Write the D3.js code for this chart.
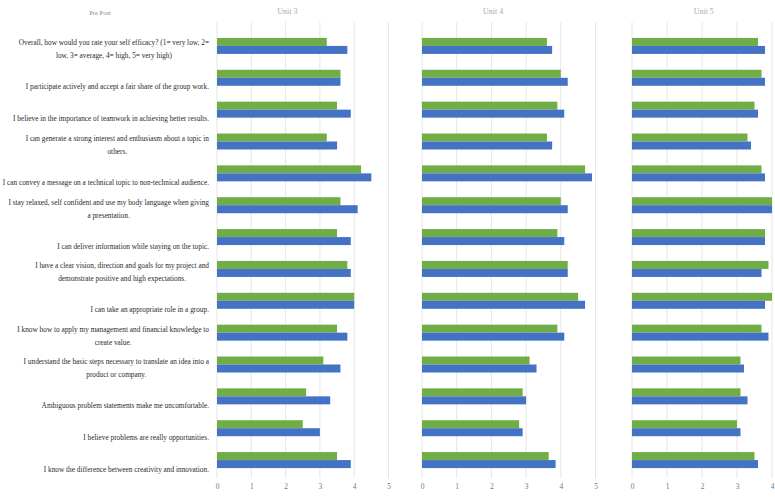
<!DOCTYPE html>
<html>
<head>
<meta charset="utf-8">
<script src="https://cdn.jsdelivr.net/npm/d3@7"></script>
<style>
  html, body { margin: 0; padding: 0; background: #fff; }
  svg { display: block; }
</style>
</head>
<body>
<svg id="chart" width="775" height="502"></svg>
<script>
// Survey statements (top to bottom); "|" marks a line break
const statements = [
  "Overall, how would you rate your self efficacy? (1= very low, 2=|low, 3= average, 4= high, 5= very high)",
  "I participate actively and accept a fair share of the group work.",
  "I believe in the importance of teamwork in achieving better results.",
  "I can generate a strong interest and enthusiasm about a topic in|others.",
  "I can convey a message on a technical topic to non-technical audience.",
  "I stay relaxed, self confident and use my body language when giving|a presentation.",
  "I can deliver information while staying on the topic.",
  "I have a clear vision, direction and goals for my project and|demonstrate positive and high expectations.",
  "I can take an appropriate role in a group.",
  "I know how to apply my management and financial knowledge to|create value.",
  "I understand the basic steps necessary to translate an idea into a|product or company.",
  "Ambiguous problem statements make me uncomfortable.",
  "I believe problems are really opportunities.",
  "I know the difference between creativity and innovation."
];

const units = ["Unit 3", "Unit 4", "Unit 5"];
const tickValues = [0, 1, 2, 3, 4, 5];
const lastPanelTicks = [0, 1, 2, 3, 4];

// Mean ratings per unit: pre (green) and post (blue)
const unit3Pre  = [3.2, 3.6, 3.5, 3.2, 4.2, 3.6, 3.5, 3.8, 4.0, 3.5, 3.1, 2.6, 2.5, 3.5];
const unit3Post = [3.8, 3.6, 3.9, 3.5, 4.5, 4.1, 3.9, 3.9, 4.0, 3.8, 3.6, 3.3, 3.0, 3.9];
const unit4Pre  = [3.6, 4.0, 3.9, 3.6, 4.7, 4.0, 3.9, 4.2, 4.5, 3.9, 3.1, 2.9, 2.8, 3.65];
const unit4Post = [3.75, 4.2, 4.1, 3.75, 4.9, 4.2, 4.1, 4.2, 4.7, 4.1, 3.3, 3.0, 2.9, 3.85];
const unit5Pre  = [3.6, 3.7, 3.5, 3.3, 3.7, 4.0, 3.8, 3.9, 4.0, 3.7, 3.1, 3.1, 3.0, 3.5];
const unit5Post = [3.8, 3.8, 3.6, 3.4, 3.8, 4.0, 3.8, 3.7, 3.8, 3.9, 3.2, 3.3, 3.1, 3.6];

const legendText = "Pre    Post";

const preColor = "#70ad47";
const postColor = "#4472c4";

const panels = [
  { title: units[0], pre: unit3Pre, post: unit3Post, x0: 217, x1: 388.5, ticks: tickValues },
  { title: units[1], pre: unit4Pre, post: unit4Post, x0: 422, x1: 595.5, ticks: tickValues },
  { title: units[2], pre: unit5Pre, post: unit5Post, x0: 632, x1: 807, ticks: lastPanelTicks }
];

const svg = d3.select("#chart");

const y = d3.scaleBand()
  .domain(d3.range(statements.length))
  .range([30, 476])
  .paddingInner(0)
  .paddingOuter(0);

const barH = 8;
const sub = d3.scaleBand().domain(["pre", "post"]).range([-barH, barH]);

// Caption in the top-left corner
svg.append("text")
  .attr("x", 100).attr("y", 15)
  .attr("text-anchor", "middle")
  .attr("font-family", "Liberation Serif, serif")
  .attr("font-size", 6.5)
  .attr("fill", "#888")
  .text(legendText);

// Statement labels
const labelRight = 209;
const labels = svg.append("g")
  .attr("font-family", "Liberation Serif, Times New Roman, serif")
  .attr("font-size", 7.3)
  .attr("fill", "#2a2a2a");

statements.forEach((s, i) => {
  const lines = s.split("|");
  const c = y(i) + y.bandwidth() / 2;
  const lh = 13;
  const t = labels.append("text");
  if (lines.length === 1) {
    t.attr("x", labelRight).attr("y", c + 11.5)
      .attr("text-anchor", "end")
      .text(s);
  } else {
    // two-line labels are centred on their widest line, right edge at labelRight
    lines.forEach((ln, k) => {
      t.append("tspan")
        .attr("y", c - 0.5 + k * lh)
        .attr("text-anchor", "middle")
        .text(ln);
    });
    const tsp = t.selectAll("tspan").nodes();
    const w = d3.max(tsp, n => n.getComputedTextLength());
    tsp.forEach(n => n.setAttribute("x", labelRight - w / 2));
  }
});

panels.forEach(p => {
  const x = d3.scaleLinear().domain([0, 5]).range([p.x0, p.x1]);
  const g = svg.append("g");

  // vertical gridlines
  g.selectAll("line.grid")
    .data(tickValues)
    .join("line")
    .attr("class", "grid")
    .attr("x1", d => x(d)).attr("x2", d => x(d))
    .attr("y1", 22).attr("y2", 478)
    .attr("stroke", "#e6e6e6")
    .attr("stroke-width", 1);

  // pre bars
  g.selectAll("rect.pre")
    .data(p.pre)
    .join("rect")
    .attr("class", "pre")
    .attr("x", x(0))
    .attr("y", (d, i) => y(i) + y.bandwidth() / 2 + sub("pre"))
    .attr("width", d => x(d) - x(0))
    .attr("height", sub.bandwidth())
    .attr("fill", preColor);

  // post bars
  g.selectAll("rect.post")
    .data(p.post)
    .join("rect")
    .attr("class", "post")
    .attr("x", x(0))
    .attr("y", (d, i) => y(i) + y.bandwidth() / 2 + sub("post"))
    .attr("width", d => x(d) - x(0))
    .attr("height", sub.bandwidth())
    .attr("fill", postColor);

  // x axis
  const axis = d3.axisBottom(x)
    .tickValues(p.ticks)
    .tickFormat(d3.format("d"))
    .tickSize(0)
    .tickPadding(0);
  const ax = g.append("g")
    .attr("transform", "translate(0,484)")
    .call(axis);
  ax.select(".domain").remove();
  ax.selectAll("text")
    .attr("font-family", "Liberation Serif, serif")
    .attr("font-size", 7.5)
    .attr("fill", "#777");

  // panel title
  g.append("text")
    .attr("x", x(2.05))
    .attr("y", 14)
    .attr("text-anchor", "middle")
    .attr("font-family", "Liberation Serif, serif")
    .attr("font-size", 8)
    .attr("fill", "#aaa")
    .text(p.title);
});
</script>
</body>
</html>
